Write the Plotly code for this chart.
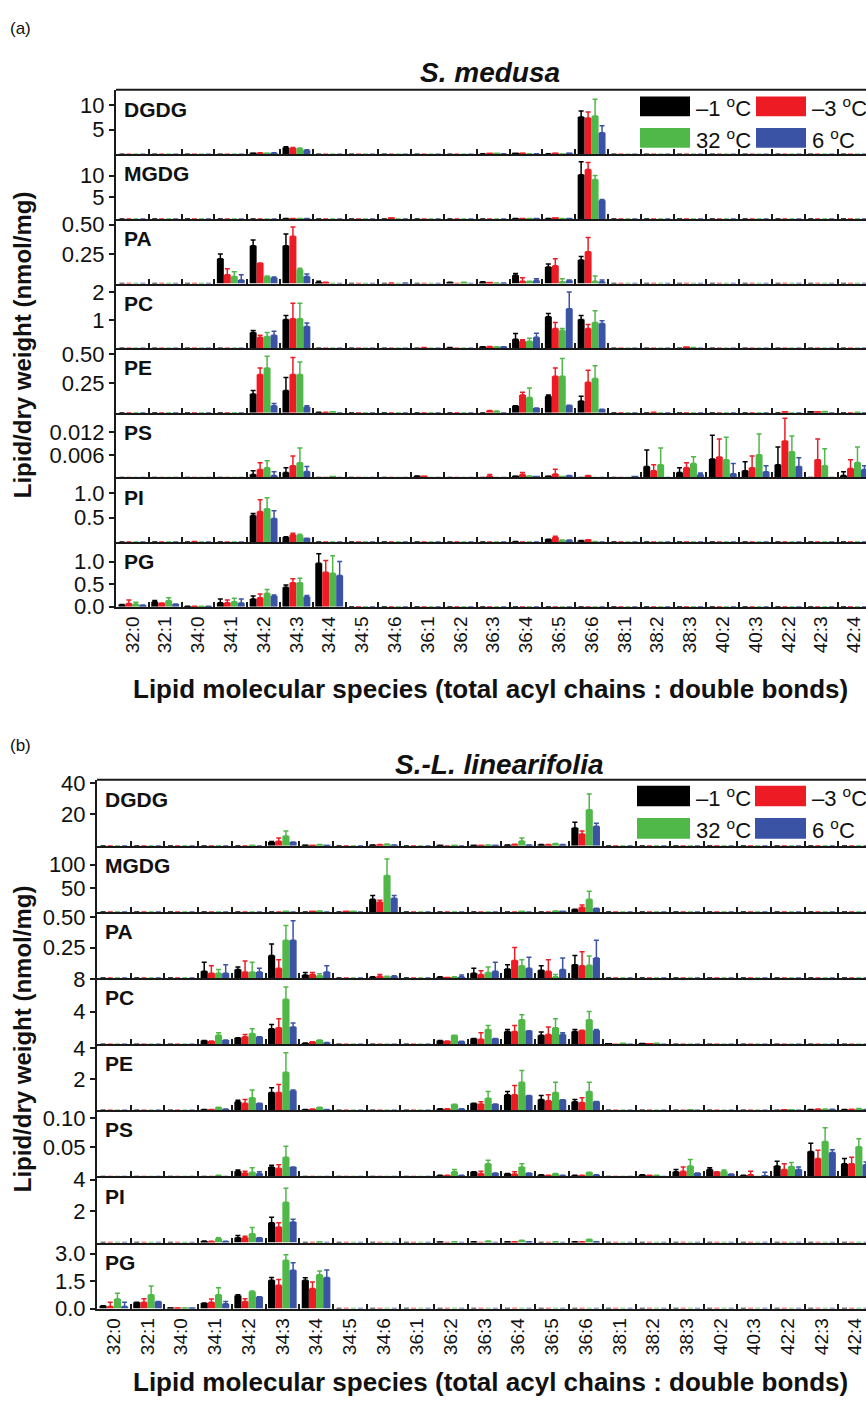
import plotly.graph_objects as go

CATS = ["32:0", "32:1", "34:0", "34:1", "34:2", "34:3", "34:4", "34:5", "34:6",
        "36:1", "36:2", "36:3", "36:4", "36:5", "36:6", "38:1", "38:2", "38:3",
        "40:2", "40:3", "42:2", "42:3", "42:4"]
SERIES = ["\u20131 \u00b0C", "\u20133 \u00b0C", "32 \u00b0C", "6 \u00b0C"]
COLORS = ["#000000", "#ED1C24", "#50B848", "#3A53A4"]
LIPIDS = ["DGDG", "MGDG", "PA", "PC", "PE", "PS", "PI", "PG"]

# ---------------- (a) S. medusa ----------------  rows: -1, -3, 32, 6 degC
A_DGDG_VAL = [
    [0, 0, 0, 0, 0.2, 1.4, 0, 0, 0, 0, 0, 0.1, 0.15, 0.1, 7.6, 0, 0, 0, 0, 0, 0, 0, 0],
    [0, 0, 0, 0, 0.3, 1.3, 0, 0, 0, 0, 0, 0.15, 0.2, 0.2, 7.4, 0, 0, 0, 0, 0, 0, 0, 0],
    [0, 0, 0, 0, 0.2, 1.2, 0, 0, 0, 0, 0, 0.15, 0.1, 0.05, 7.8, 0, 0, 0, 0, 0, 0, 0, 0],
    [0, 0, 0, 0, 0.3, 0.8, 0, 0, 0, 0, 0, 0.1, 0.1, 0.2, 4.4, 0, 0, 0, 0, 0, 0, 0, 0]]
A_DGDG_ERR = [
    [0, 0, 0, 0, 0, 0.15, 0, 0, 0, 0, 0, 0, 0, 0, 1.2, 0, 0, 0, 0, 0, 0, 0, 0],
    [0, 0, 0, 0, 0, 0.1, 0, 0, 0, 0, 0, 0, 0, 0, 1.2, 0, 0, 0, 0, 0, 0, 0, 0],
    [0, 0, 0, 0, 0, 0.1, 0, 0, 0, 0, 0, 0, 0, 0, 3.4, 0, 0, 0, 0, 0, 0, 0, 0],
    [0, 0, 0, 0, 0, 0.1, 0, 0, 0, 0, 0, 0, 0, 0, 1.4, 0, 0, 0, 0, 0, 0, 0, 0]]

A_MGDG_VAL = [
    [0, 0, 0, 0, 0, 0.1, 0, 0, 0, 0, 0, 0, 0.1, 0.1, 10.2, 0, 0, 0, 0, 0, 0, 0, 0],
    [0, 0, 0, 0, 0, 0.1, 0, 0, 0.15, 0, 0, 0, 0.1, 0.15, 11.4, 0, 0, 0, 0, 0, 0, 0, 0],
    [0, 0, 0, 0, 0, 0.1, 0, 0, 0, 0, 0, 0, 0.1, 0.1, 9.1, 0, 0, 0, 0, 0, 0, 0, 0],
    [0, 0, 0, 0, 0, 0.1, 0, 0, 0, 0, 0, 0, 0.1, 0.1, 4.3, 0, 0, 0, 0, 0, 0, 0, 0]]
A_MGDG_ERR = [
    [0, 0, 0, 0, 0, 0, 0, 0, 0, 0, 0, 0, 0, 0, 3.0, 0, 0, 0, 0, 0, 0, 0, 0],
    [0, 0, 0, 0, 0, 0, 0, 0, 0, 0, 0, 0, 0, 0, 1.6, 0, 0, 0, 0, 0, 0, 0, 0],
    [0, 0, 0, 0, 0, 0, 0, 0, 0, 0, 0, 0, 0, 0, 0.9, 0, 0, 0, 0, 0, 0, 0, 0],
    [0, 0, 0, 0, 0, 0, 0, 0, 0, 0, 0, 0, 0, 0, 0.2, 0, 0, 0, 0, 0, 0, 0, 0]]

A_PA_VAL = [
    [0, 0, 0, 0.21, 0.32, 0.32, 0.01, 0, 0, 0, 0.01, 0.015, 0.07, 0.14, 0.2, 0, 0, 0, 0, 0, 0, 0, 0],
    [0, 0, 0, 0.075, 0.175, 0.40, 0.01, 0, 0.005, 0, 0, 0.008, 0.02, 0.15, 0.27, 0, 0, 0, 0, 0, 0, 0, 0],
    [0, 0, 0, 0.06, 0.06, 0.12, 0, 0, 0, 0, 0.01, 0.005, 0.02, 0.015, 0.02, 0, 0, 0, 0, 0, 0, 0, 0],
    [0, 0, 0, 0.03, 0.05, 0.06, 0, 0, 0.005, 0, 0, 0.005, 0.025, 0.025, 0.015, 0, 0, 0, 0, 0, 0, 0, 0]]
A_PA_ERR = [
    [0, 0, 0, 0.04, 0.05, 0.10, 0.01, 0, 0, 0, 0, 0, 0.015, 0.025, 0.03, 0, 0, 0, 0, 0, 0, 0, 0],
    [0, 0, 0, 0.05, 0, 0.08, 0, 0, 0, 0, 0, 0, 0.03, 0.06, 0.12, 0, 0, 0, 0, 0, 0, 0, 0],
    [0, 0, 0, 0.04, 0.005, 0.01, 0, 0, 0, 0, 0, 0, 0, 0.025, 0.045, 0, 0, 0, 0, 0, 0, 0, 0],
    [0, 0, 0, 0.045, 0.005, 0.02, 0, 0, 0, 0, 0, 0, 0.015, 0.005, 0.015, 0, 0, 0, 0, 0, 0, 0, 0]]

A_PC_VAL = [
    [0, 0, 0, 0, 0.56, 1.02, 0, 0, 0, 0, 0.02, 0.05, 0.32, 1.12, 1.02, 0, 0, 0, 0, 0, 0, 0, 0],
    [0, 0, 0, 0, 0.39, 1.05, 0, 0, 0, 0.02, 0, 0.06, 0.25, 0.70, 0.70, 0, 0, 0.03, 0, 0, 0, 0, 0],
    [0, 0, 0, 0, 0.42, 1.05, 0, 0, 0, 0, 0, 0.05, 0.25, 0.63, 0.91, 0, 0, 0.02, 0, 0, 0, 0, 0],
    [0, 0, 0, 0, 0.46, 0.77, 0, 0, 0, 0, 0, 0.05, 0.39, 1.40, 0.88, 0, 0, 0, 0, 0, 0, 0, 0]]
A_PC_ERR = [
    [0, 0, 0, 0, 0.07, 0.14, 0, 0, 0, 0, 0, 0, 0.2, 0.11, 0.14, 0, 0, 0, 0, 0, 0, 0, 0],
    [0, 0, 0, 0, 0.07, 0.55, 0, 0, 0, 0, 0, 0, 0.05, 0.21, 0.14, 0, 0, 0, 0, 0, 0, 0, 0],
    [0, 0, 0, 0, 0.14, 0.55, 0, 0, 0, 0, 0, 0, 0.1, 0.07, 0.42, 0, 0, 0, 0, 0, 0, 0, 0],
    [0, 0, 0, 0, 0.14, 0.13, 0, 0, 0, 0, 0, 0, 0.14, 0.6, 0.1, 0, 0, 0, 0, 0, 0, 0, 0]]

A_PE_VAL = [
    [0, 0, 0, 0, 0.16, 0.19, 0.005, 0, 0, 0, 0, 0, 0.06, 0.14, 0.10, 0, 0, 0, 0, 0, 0, 0.01, 0],
    [0, 0, 0, 0, 0.325, 0.325, 0.005, 0, 0, 0, 0, 0.02, 0.15, 0.31, 0.26, 0, 0.005, 0, 0, 0, 0.008, 0.01, 0],
    [0, 0, 0, 0, 0.38, 0.325, 0.008, 0, 0, 0, 0, 0.015, 0.13, 0.31, 0.29, 0, 0, 0, 0, 0, 0, 0.012, 0.005],
    [0, 0, 0, 0, 0.06, 0.05, 0, 0, 0, 0, 0, 0, 0.04, 0.065, 0.03, 0, 0, 0, 0, 0, 0, 0, 0]]
A_PE_ERR = [
    [0, 0, 0, 0, 0.03, 0.11, 0, 0, 0, 0, 0, 0, 0, 0.01, 0.04, 0, 0, 0, 0, 0, 0, 0, 0],
    [0, 0, 0, 0, 0.055, 0.145, 0, 0, 0, 0, 0, 0, 0.025, 0.07, 0.10, 0, 0, 0, 0, 0, 0, 0, 0],
    [0, 0, 0, 0, 0.10, 0.105, 0, 0, 0, 0, 0, 0, 0.08, 0.15, 0.11, 0, 0, 0, 0, 0, 0, 0, 0],
    [0, 0, 0, 0, 0.02, 0.01, 0, 0, 0, 0, 0, 0, 0, 0, 0, 0, 0, 0, 0, 0, 0, 0, 0]]

A_PS_VAL = [
    [0, 0, 0, 0, 0.0008, 0.0013, 0, 0, 0, 0.0004, 0, 0, 0.0003, 0.0003, 0, 0, 0.0029, 0.0013, 0.0049, 0.0018, 0.0034, 0, 0.0005],
    [0, 0, 0, 0, 0.0021, 0.0031, 0, 0, 0, 0.0003, 0, 0.0003, 0.0008, 0.0009, 0.0005, 0, 0.0018, 0.0026, 0.0054, 0.0026, 0.0097, 0.0047, 0.0024],
    [0, 0, 0, 0, 0.0026, 0.0039, 0.0002, 0, 0, 0, 0, 0, 0.0004, 0.0002, 0, 0, 0.0034, 0.0037, 0.0047, 0.0060, 0.0068, 0.0031, 0.0040],
    [0, 0, 0, 0, 0.0005, 0.0016, 0, 0, 0, 0, 0, 0, 0.0002, 0.0005, 0, 0.0002, 0, 0.0008, 0.0010, 0.0015, 0.0029, 0, 0.0021]]
A_PS_ERR = [
    [0, 0, 0, 0, 0.0010, 0.0013, 0, 0, 0, 0, 0, 0, 0, 0, 0, 0, 0.0044, 0.0013, 0.0063, 0.0024, 0.0047, 0, 0.0010],
    [0, 0, 0, 0, 0.0018, 0.0026, 0, 0, 0, 0, 0, 0.0005, 0.0005, 0.0013, 0, 0, 0.0016, 0.0013, 0.0048, 0.0031, 0.0060, 0.0055, 0.0023],
    [0, 0, 0, 0, 0.0018, 0.0039, 0, 0, 0, 0, 0, 0, 0, 0, 0, 0, 0.0044, 0.0018, 0.0060, 0.0055, 0.0042, 0.0045, 0.0041],
    [0, 0, 0, 0, 0.0010, 0.0013, 0, 0, 0, 0, 0, 0, 0, 0, 0, 0, 0, 0.0004, 0.0027, 0.0016, 0.0023, 0, 0.0010]]

A_PI_VAL = [
    [0, 0, 0, 0, 0.54, 0.10, 0, 0, 0, 0, 0, 0, 0.01, 0.06, 0.03, 0, 0, 0, 0, 0, 0, 0, 0],
    [0, 0, 0.01, 0, 0.62, 0.15, 0, 0, 0, 0, 0, 0, 0, 0.10, 0.05, 0, 0, 0, 0, 0, 0, 0, 0],
    [0, 0, 0, 0, 0.68, 0.14, 0, 0, 0, 0, 0, 0, 0, 0.04, 0.01, 0, 0, 0, 0, 0, 0, 0, 0],
    [0, 0, 0, 0, 0.48, 0.08, 0, 0, 0, 0, 0, 0, 0, 0.04, 0, 0, 0, 0, 0, 0, 0, 0, 0]]
A_PI_ERR = [
    [0, 0, 0, 0, 0.04, 0.01, 0, 0, 0, 0, 0, 0, 0, 0, 0, 0, 0, 0, 0, 0, 0, 0, 0],
    [0, 0, 0, 0, 0.24, 0.03, 0, 0, 0, 0, 0, 0, 0, 0.02, 0, 0, 0, 0, 0, 0, 0, 0, 0],
    [0, 0, 0, 0, 0.22, 0.02, 0, 0, 0, 0, 0, 0, 0, 0, 0, 0, 0, 0, 0, 0, 0, 0, 0],
    [0, 0, 0, 0, 0.16, 0, 0, 0, 0, 0, 0, 0, 0, 0, 0, 0, 0, 0, 0, 0, 0, 0, 0]]

A_PG_VAL = [
    [0.05, 0.11, 0.01, 0.09, 0.17, 0.43, 0.96, 0, 0, 0, 0, 0, 0, 0, 0, 0, 0, 0, 0, 0, 0, 0, 0],
    [0.07, 0.08, 0.01, 0.09, 0.20, 0.53, 0.76, 0, 0, 0, 0, 0, 0, 0, 0, 0, 0, 0, 0, 0, 0, 0, 0],
    [0.06, 0.13, 0.01, 0.11, 0.30, 0.53, 0.74, 0, 0, 0, 0, 0, 0, 0, 0, 0, 0, 0, 0, 0, 0, 0, 0],
    [0.04, 0.06, 0.01, 0.08, 0.24, 0.22, 0.69, 0, 0, 0, 0, 0, 0, 0, 0, 0, 0, 0, 0, 0, 0, 0, 0]]
A_PG_ERR = [
    [0, 0.03, 0, 0.08, 0.07, 0.05, 0.21, 0, 0, 0, 0, 0, 0, 0, 0, 0, 0, 0, 0, 0, 0, 0, 0],
    [0.08, 0, 0, 0.06, 0.08, 0.09, 0.26, 0, 0, 0, 0, 0, 0, 0, 0, 0, 0, 0, 0, 0, 0, 0, 0],
    [0.04, 0.07, 0, 0.08, 0.08, 0.10, 0.39, 0, 0, 0, 0, 0, 0, 0, 0, 0, 0, 0, 0, 0, 0, 0, 0],
    [0, 0, 0, 0.09, 0.02, 0.03, 0.31, 0, 0, 0, 0, 0, 0, 0, 0, 0, 0, 0, 0, 0, 0, 0, 0]]

# ---------------- (b) S.-L. linearifolia ----------------
B_DGDG_VAL = [
    [0, 0, 0, 0, 0, 2.5, 0.4, 0, 0.6, 0, 0.2, 0.3, 0.5, 0.8, 11.3, 0, 0, 0, 0, 0, 0, 0, 0],
    [0, 0, 0, 0, 0, 3.0, 0.3, 0, 0.8, 0, 0, 0.3, 1.0, 0.8, 7.5, 0, 0, 0, 0, 0, 0, 0, 0],
    [0, 0, 0, 0, 0.3, 6.3, 0.8, 0, 1.2, 0, 0.3, 0.5, 3.1, 1.5, 23.0, 0, 0, 0, 0, 0, 0, 0, 0],
    [0, 0, 0, 0, 0, 2.5, 0.3, 0, 0.6, 0, 0, 0.3, 0.5, 0.8, 12.5, 0, 0, 0, 0, 0, 0, 0, 0]]
B_DGDG_ERR = [
    [0, 0, 0, 0, 0, 0.3, 0, 0, 0, 0, 0, 0, 0, 0, 3.7, 0, 0, 0, 0, 0, 0, 0, 0],
    [0, 0, 0, 0, 0, 2.0, 0, 0, 0, 0, 0, 0, 0, 0, 1.9, 0, 0, 0, 0, 0, 0, 0, 0],
    [0, 0, 0, 0, 0, 3.1, 0, 0, 0, 0, 0, 0, 1.9, 0, 10.0, 0, 0, 0, 0, 0, 0, 0, 0],
    [0, 0, 0, 0, 0, 0, 0, 0, 0, 0, 0, 0, 0, 0, 1.9, 0, 0, 0, 0, 0, 0, 0, 0]]

B_MGDG_VAL = [
    [0, 0, 0, 0, 0, 0, 0, 0, 27, 0, 0, 0, 0, 0, 6, 0, 0, 0, 0, 0, 0, 0, 0],
    [0, 0, 0, 0, 0, 0, 1, 1, 21, 0, 0, 0, 0, 0, 10, 0, 0, 0, 0, 0, 0, 0, 0],
    [0, 0, 0, 0, 0, 1, 2, 1, 77, 0, 0, 0, 1, 2, 27, 0, 0, 0, 0, 0, 0, 0, 0],
    [0, 0, 0, 0, 0, 0, 0, 0, 29, 0, 0, 0, 0, 1, 8, 0, 0, 0, 0, 0, 0, 0, 0]]
B_MGDG_ERR = [
    [0, 0, 0, 0, 0, 0, 0, 0, 8, 0, 0, 0, 0, 0, 0, 0, 0, 0, 0, 0, 0, 0, 0],
    [0, 0, 0, 0, 0, 0, 0, 0, 4, 0, 0, 0, 0, 0, 4.6, 0, 0, 0, 0, 0, 0, 0, 0],
    [0, 0, 0, 0, 0, 0, 0, 0, 35, 0, 0, 0, 0, 0, 17, 0, 0, 0, 0, 0, 0, 0, 0],
    [0, 0, 0, 0, 0, 0, 0, 0, 6, 0, 0, 0, 0, 0, 0, 0, 0, 0, 0, 0, 0, 0, 0]]

B_PA_VAL = [
    [0, 0, 0, 0.056, 0.07, 0.185, 0.025, 0, 0.01, 0, 0.01, 0.04, 0.075, 0.065, 0.11, 0, 0, 0, 0, 0, 0, 0, 0],
    [0, 0, 0, 0.04, 0.05, 0.08, 0.03, 0, 0.015, 0, 0.005, 0.03, 0.145, 0.055, 0.10, 0, 0, 0, 0, 0, 0, 0, 0],
    [0, 0, 0, 0.04, 0.05, 0.31, 0.02, 0, 0.015, 0, 0.01, 0.045, 0.10, 0.01, 0.105, 0, 0, 0, 0, 0, 0, 0, 0],
    [0, 0, 0, 0.04, 0.05, 0.31, 0.05, 0, 0.015, 0, 0.01, 0.055, 0.08, 0.07, 0.165, 0, 0, 0, 0, 0, 0, 0, 0]]
B_PA_ERR = [
    [0, 0, 0, 0.074, 0.02, 0.095, 0.02, 0, 0, 0, 0, 0.04, 0.035, 0.035, 0.075, 0, 0, 0, 0, 0, 0, 0, 0],
    [0, 0, 0, 0.06, 0.09, 0.07, 0.015, 0, 0.015, 0, 0, 0.03, 0.105, 0.095, 0.115, 0, 0, 0, 0, 0, 0, 0, 0],
    [0, 0, 0, 0.03, 0.08, 0.12, 0.015, 0, 0, 0, 0, 0.045, 0.05, 0.02, 0.075, 0, 0, 0, 0, 0, 0, 0, 0],
    [0, 0, 0, 0.07, 0.03, 0.16, 0.05, 0, 0.005, 0, 0.015, 0.075, 0.09, 0.095, 0.145, 0, 0, 0, 0, 0, 0, 0, 0]]

B_PC_VAL = [
    [0, 0, 0, 0.45, 0.8, 1.9, 0.15, 0, 0, 0, 0.45, 0.7, 1.55, 1.1, 1.55, 0.05, 0.08, 0, 0, 0, 0, 0, 0],
    [0, 0, 0, 0.4, 0.9, 2.0, 0.3, 0, 0, 0, 0.4, 0.6, 1.55, 1.2, 1.7, 0, 0.05, 0, 0, 0, 0, 0, 0],
    [0, 0, 0, 1.1, 1.3, 5.5, 0.5, 0, 0, 0, 1.1, 1.8, 3.0, 2.0, 3.0, 0.1, 0.1, 0, 0, 0, 0, 0, 0],
    [0, 0, 0, 0.5, 0.9, 2.1, 0.2, 0, 0, 0, 0.35, 0.7, 1.65, 1.2, 1.7, 0, 0, 0, 0, 0, 0, 0, 0]]
B_PC_ERR = [
    [0, 0, 0, 0, 0, 0.5, 0, 0, 0, 0, 0, 0, 0.25, 0.4, 0.25, 0, 0, 0, 0, 0, 0, 0, 0],
    [0, 0, 0, 0, 0.3, 1.1, 0, 0, 0, 0, 0, 0.8, 0.75, 0.9, 0, 0, 0, 0, 0, 0, 0, 0, 0],
    [0, 0, 0, 0.3, 0.6, 1.5, 0, 0, 0, 0, 0, 0.5, 0.6, 1.1, 1.0, 0, 0, 0, 0, 0, 0, 0, 0],
    [0, 0, 0, 0, 0, 0.5, 0, 0, 0, 0, 0, 0, 0, 0.2, 0.1, 0, 0, 0, 0, 0, 0, 0, 0]]

B_PE_VAL = [
    [0, 0, 0, 0.05, 0.55, 1.15, 0.05, 0, 0, 0, 0.1, 0.45, 1.0, 0.7, 0.55, 0, 0, 0, 0, 0, 0, 0.05, 0.05],
    [0, 0, 0, 0.05, 0.45, 1.15, 0.08, 0, 0, 0, 0.1, 0.4, 1.0, 0.62, 0.5, 0, 0, 0, 0, 0, 0.03, 0.08, 0.07],
    [0, 0, 0, 0.2, 0.8, 2.45, 0.2, 0, 0, 0, 0.38, 0.78, 1.8, 1.15, 1.2, 0, 0, 0.03, 0, 0, 0.03, 0.08, 0.12],
    [0, 0, 0, 0.08, 0.45, 1.25, 0.05, 0, 0, 0, 0.1, 0.4, 0.95, 0.68, 0.57, 0, 0, 0, 0, 0, 0, 0.06, 0.05]]
B_PE_ERR = [
    [0, 0, 0, 0, 0.1, 0.3, 0, 0, 0, 0, 0, 0, 0.2, 0.25, 0.15, 0, 0, 0, 0, 0, 0, 0, 0],
    [0, 0, 0, 0, 0.25, 0.5, 0, 0, 0, 0, 0, 0.15, 0.6, 0.38, 0.3, 0, 0, 0, 0, 0, 0, 0, 0],
    [0, 0, 0, 0, 0.5, 1.25, 0, 0, 0, 0, 0, 0.42, 0.75, 0.65, 0.6, 0, 0, 0, 0, 0, 0, 0, 0],
    [0, 0, 0, 0, 0, 0.05, 0, 0, 0, 0, 0, 0, 0, 0, 0, 0, 0, 0, 0, 0, 0, 0, 0]]

B_PS_VAL = [
    [0, 0, 0, 0, 0.009, 0.016, 0, 0, 0, 0, 0.002, 0.008, 0.005, 0.003, 0.002, 0, 0.003, 0.008, 0.012, 0.002, 0.018, 0.043, 0.022],
    [0, 0, 0, 0, 0.006, 0.014, 0, 0, 0, 0, 0.002, 0.005, 0.004, 0.002, 0.002, 0, 0.002, 0.009, 0.008, 0.003, 0.012, 0.031, 0.022],
    [0, 0, 0, 0.002, 0.007, 0.033, 0, 0, 0, 0, 0.008, 0.022, 0.016, 0.005, 0.007, 0, 0.002, 0.018, 0.009, 0, 0.017, 0.060, 0.051],
    [0, 0, 0, 0, 0.005, 0.016, 0, 0, 0, 0, 0.002, 0.006, 0.006, 0.002, 0.003, 0, 0, 0.006, 0.004, 0.001, 0.012, 0.041, 0.020]]
B_PS_ERR = [
    [0, 0, 0, 0, 0.002, 0.003, 0, 0, 0, 0, 0, 0, 0, 0, 0, 0, 0, 0.004, 0.003, 0, 0.008, 0.014, 0.009],
    [0, 0, 0, 0, 0.003, 0.006, 0, 0, 0, 0, 0, 0.004, 0.004, 0, 0, 0, 0, 0.007, 0, 0.006, 0.010, 0.014, 0.011],
    [0, 0, 0, 0, 0.008, 0.019, 0, 0, 0, 0, 0.004, 0.006, 0.006, 0, 0, 0, 0, 0.011, 0.002, 0, 0.007, 0.024, 0.014],
    [0, 0, 0, 0, 0.003, 0, 0, 0, 0, 0, 0, 0, 0, 0, 0, 0, 0, 0, 0, 0.006, 0.004, 0.005, 0.005]]

B_PI_VAL = [
    [0, 0, 0, 0.1, 0.3, 1.25, 0, 0, 0, 0, 0.03, 0.05, 0.05, 0, 0.05, 0, 0, 0, 0, 0, 0, 0, 0],
    [0, 0, 0, 0.08, 0.3, 0.98, 0, 0, 0, 0, 0, 0, 0.05, 0, 0.05, 0, 0, 0, 0, 0, 0, 0, 0],
    [0, 0, 0, 0.25, 0.55, 2.55, 0.03, 0, 0, 0, 0.05, 0.1, 0.15, 0.05, 0.2, 0, 0, 0, 0, 0, 0, 0, 0],
    [0, 0, 0, 0.08, 0.3, 1.3, 0, 0, 0, 0, 0, 0, 0.05, 0, 0.05, 0, 0, 0, 0, 0, 0, 0, 0]]
B_PI_ERR = [
    [0, 0, 0, 0, 0.15, 0.35, 0, 0, 0, 0, 0, 0, 0, 0, 0, 0, 0, 0, 0, 0, 0, 0, 0],
    [0, 0, 0, 0, 0.1, 0.27, 0, 0, 0, 0, 0, 0, 0, 0, 0, 0, 0, 0, 0, 0, 0, 0, 0],
    [0, 0, 0, 0.05, 0.4, 0.9, 0, 0, 0, 0, 0, 0, 0, 0, 0, 0, 0, 0, 0, 0, 0, 0, 0],
    [0, 0, 0, 0, 0, 0.18, 0, 0, 0, 0, 0, 0, 0, 0, 0, 0, 0, 0, 0, 0, 0, 0, 0]]

B_PG_VAL = [
    [0.16, 0.34, 0.03, 0.30, 0.71, 1.55, 1.55, 0, 0, 0, 0, 0, 0, 0, 0, 0, 0, 0, 0, 0, 0, 0, 0],
    [0.12, 0.34, 0.03, 0.34, 0.39, 1.27, 1.10, 0, 0, 0, 0, 0, 0, 0, 0, 0, 0, 0, 0, 0, 0, 0, 0],
    [0.52, 0.75, 0.03, 0.75, 0.93, 2.63, 1.85, 0, 0, 0, 0, 0, 0, 0, 0, 0, 0, 0, 0, 0, 0, 0, 0],
    [0.12, 0.39, 0.02, 0.27, 0.64, 2.09, 1.70, 0, 0, 0, 0, 0, 0, 0, 0, 0, 0, 0, 0, 0, 0, 0, 0]]
B_PG_ERR = [
    [0, 0, 0, 0, 0.04, 0.15, 0.13, 0, 0, 0, 0, 0, 0, 0, 0, 0, 0, 0, 0, 0, 0, 0, 0],
    [0.22, 0.2, 0, 0.18, 0.15, 0.32, 0.35, 0, 0, 0, 0, 0, 0, 0, 0, 0, 0, 0, 0, 0, 0, 0, 0],
    [0.32, 0.48, 0, 0.39, 0.03, 0.30, 0.20, 0, 0, 0, 0, 0, 0, 0, 0, 0, 0, 0, 0, 0, 0, 0, 0],
    [0.22, 0, 0, 0.12, 0, 0.41, 0.40, 0, 0, 0, 0, 0, 0, 0, 0, 0, 0, 0, 0, 0, 0, 0, 0]]

# y-axis ticks per subplot
A_TICKS = [([5, 10], ["5", "10"]), ([5, 10], ["5", "10"]), ([0.25, 0.5], ["0.25", "0.50"]),
           ([1, 2], ["1", "2"]), ([0.25, 0.5], ["0.25", "0.50"]),
           ([0.006, 0.012], ["0.006", "0.012"]), ([0.5, 1.0], ["0.5", "1.0"]),
           ([0, 0.5, 1.0], ["0.0", "0.5", "1.0"])]
B_TICKS = [([20, 40], ["20", "40"]), ([50, 100], ["50", "100"]), ([0.25, 0.5], ["0.25", "0.50"]),
           ([4, 8], ["4", "8"]), ([2, 4], ["2", "4"]), ([0.05, 0.10], ["0.05", "0.10"]),
           ([2, 4], ["2", "4"]), ([0, 1.5, 3.0], ["0.0", "1.5", "3.0"])]
A_YMAX = [13.15, 14.9, 0.548, 2.3, 0.548, 0.01715, 1.315, 1.43]
B_YMAX = [42.0, 140.0, 0.542, 8.1, 4.25, 0.114, 4.2, 3.6]

A_DATA = [(A_DGDG_VAL, A_DGDG_ERR), (A_MGDG_VAL, A_MGDG_ERR), (A_PA_VAL, A_PA_ERR),
          (A_PC_VAL, A_PC_ERR), (A_PE_VAL, A_PE_ERR), (A_PS_VAL, A_PS_ERR),
          (A_PI_VAL, A_PI_ERR), (A_PG_VAL, A_PG_ERR)]
B_DATA = [(B_DGDG_VAL, B_DGDG_ERR), (B_MGDG_VAL, B_MGDG_ERR), (B_PA_VAL, B_PA_ERR),
          (B_PC_VAL, B_PC_ERR), (B_PE_VAL, B_PE_ERR), (B_PS_VAL, B_PS_ERR),
          (B_PI_VAL, B_PI_ERR), (B_PG_VAL, B_PG_ERR)]

W, H = 866, 1415
FONT = "Liberation Sans, Arial, sans-serif"
AX = "#1a1a1a"


def px(x):
    return x / W


def py(y):
    return 1 - y / H


PANELS = [
    dict(data=A_DATA, ticks=A_TICKS, ymax=A_YMAX, left=116, top=80, h=65.75, cw=32.8,
         title="S. medusa", title_x=490, title_y=63, tag="(a)", tag_y=18,
         xtitle_y=690, ytitle_y=340, leg=(640, 690, 756, 806, 87, 107, 119, 139)),
    dict(data=B_DATA, ticks=B_TICKS, ymax=B_YMAX, left=97, top=782, h=67.25, cw=33.7,
         title="S.-L. linearifolia", title_x=499, title_y=766, tag="(b)", tag_y=747,
         xtitle_y=1395, ytitle_y=1046, leg=(637, 690, 755, 806, 788, 809, 821, 842)),
]

fig = go.Figure()
layout = {}
annotations = []
shapes = []
k = 0
for P in PANELS:
    xr = -0.5 + (W - P["left"]) / P["cw"]
    for j, lip in enumerate(LIPIDS):
        k += 1
        vals, errs = P["data"][j]
        for s in range(4):
            fig.add_trace(go.Bar(
                x=CATS, y=vals[s], name=SERIES[s], showlegend=False,
                marker=dict(color=COLORS[s], line=dict(width=0)),
                error_y=dict(type="data", symmetric=False, array=errs[s],
                             arrayminus=[0] * len(CATS), color=COLORS[s],
                             thickness=1.5, width=2.5),
                xaxis=f"x{k}", yaxis=f"y{k}"))
        ytop = P["top"] + j * P["h"]
        ybot = ytop + P["h"]
        last = (j == len(LIPIDS) - 1)
        layout[f"xaxis{k}"] = dict(
            domain=[px(P["left"]), 1], anchor=f"y{k}", type="category",
            categoryorder="array", categoryarray=CATS, range=[-0.5, xr],
            showline=True, linecolor=AX, linewidth=2, ticks="inside",
            tickson="boundaries", ticklen=5, tickwidth=2, tickcolor=AX,
            showgrid=False, zeroline=False, showticklabels=last, tickangle=-90,
            tickfont=dict(family=FONT, size=19, color="#111"))
        tv, tt = P["ticks"][j]
        layout[f"yaxis{k}"] = dict(
            domain=[py(ybot), py(ytop)], anchor=f"x{k}", range=[0, P["ymax"][j]],
            showline=True, linecolor=AX, linewidth=2, ticks="outside", ticklen=5,
            tickwidth=2, tickcolor=AX, tickvals=tv, ticktext=tt, showgrid=False,
            zeroline=False, tickfont=dict(family=FONT, size=22, color="#111"))
        annotations.append(dict(
            x=px(P["left"] + 6), y=py(ytop + 20), xref="paper", yref="paper",
            text=f"<b>{lip}</b>", showarrow=False, xanchor="left", yanchor="middle",
            font=dict(family=FONT, size=21, color="#111")))
    # top frame line
    shapes.append(dict(type="line", xref="paper", yref="paper", x0=px(P["left"]), x1=1,
                       y0=py(P["top"]), y1=py(P["top"]), line=dict(color=AX, width=2)))
    # titles
    annotations.append(dict(x=px(P["title_x"]), y=py(P["title_y"]), xref="paper", yref="paper",
                            text=f"<b><i>{P['title']}</i></b>", showarrow=False,
                            xanchor="center", yanchor="middle",
                            font=dict(family=FONT, size=28, color="#111")))
    annotations.append(dict(x=px(8), y=py(P["tag_y"]), xref="paper", yref="paper",
                            text=P["tag"], showarrow=False, xanchor="left", yanchor="middle",
                            font=dict(family=FONT, size=17, color="#111")))
    annotations.append(dict(x=px(490), y=py(P["xtitle_y"]), xref="paper", yref="paper",
                            text="<b>Lipid molecular species (total acyl chains : double bonds)</b>",
                            showarrow=False, xanchor="center", yanchor="middle",
                            font=dict(family=FONT, size=26, color="#111")))
    annotations.append(dict(x=px(22), y=py(P["ytitle_y"]), xref="paper", yref="paper",
                            text="<b>Lipid/dry weight (nmol/mg)</b>", showarrow=False,
                            textangle=-90, xanchor="center", yanchor="middle",
                            font=dict(family=FONT, size=24, color="#111")))
    # legend (2 x 2 swatches)
    xa0, xa1, xb0, xb1, ya0, ya1, yb0, yb1 = P["leg"]
    boxes = [(xa0, xa1, ya0, ya1), (xb0, xb1, ya0, ya1), (xa0, xa1, yb0, yb1), (xb0, xb1, yb0, yb1)]
    labels = ["\u20131 <sup>o</sup>C", "\u20133 <sup>o</sup>C", "32 <sup>o</sup>C", "6 <sup>o</sup>C"]
    for (x0, x1, y0, y1), lab, col in zip(boxes, labels, COLORS):
        shapes.append(dict(type="rect", xref="paper", yref="paper", x0=px(x0), x1=px(x1),
                           y0=py(y1), y1=py(y0), fillcolor=col, line=dict(width=0)))
        annotations.append(dict(x=px(x1 + 4), y=py((y0 + y1) / 2 + 1), xref="paper", yref="paper",
                                text=lab, showarrow=False, xanchor="left", yanchor="middle",
                                font=dict(family=FONT, size=22, color="#111")))

fig.update_layout(
    width=W, height=H, margin=dict(l=0, r=0, t=0, b=0),
    paper_bgcolor="white", plot_bgcolor="white",
    barmode="group", bargap=0.15, bargroupgap=0,
    annotations=annotations, shapes=shapes, showlegend=False,
    font=dict(family=FONT, color="#111"), **layout)

fig.write_html("out.html", config={"displayModeBar": False},
               post_script="document.body.style.margin='0';")
